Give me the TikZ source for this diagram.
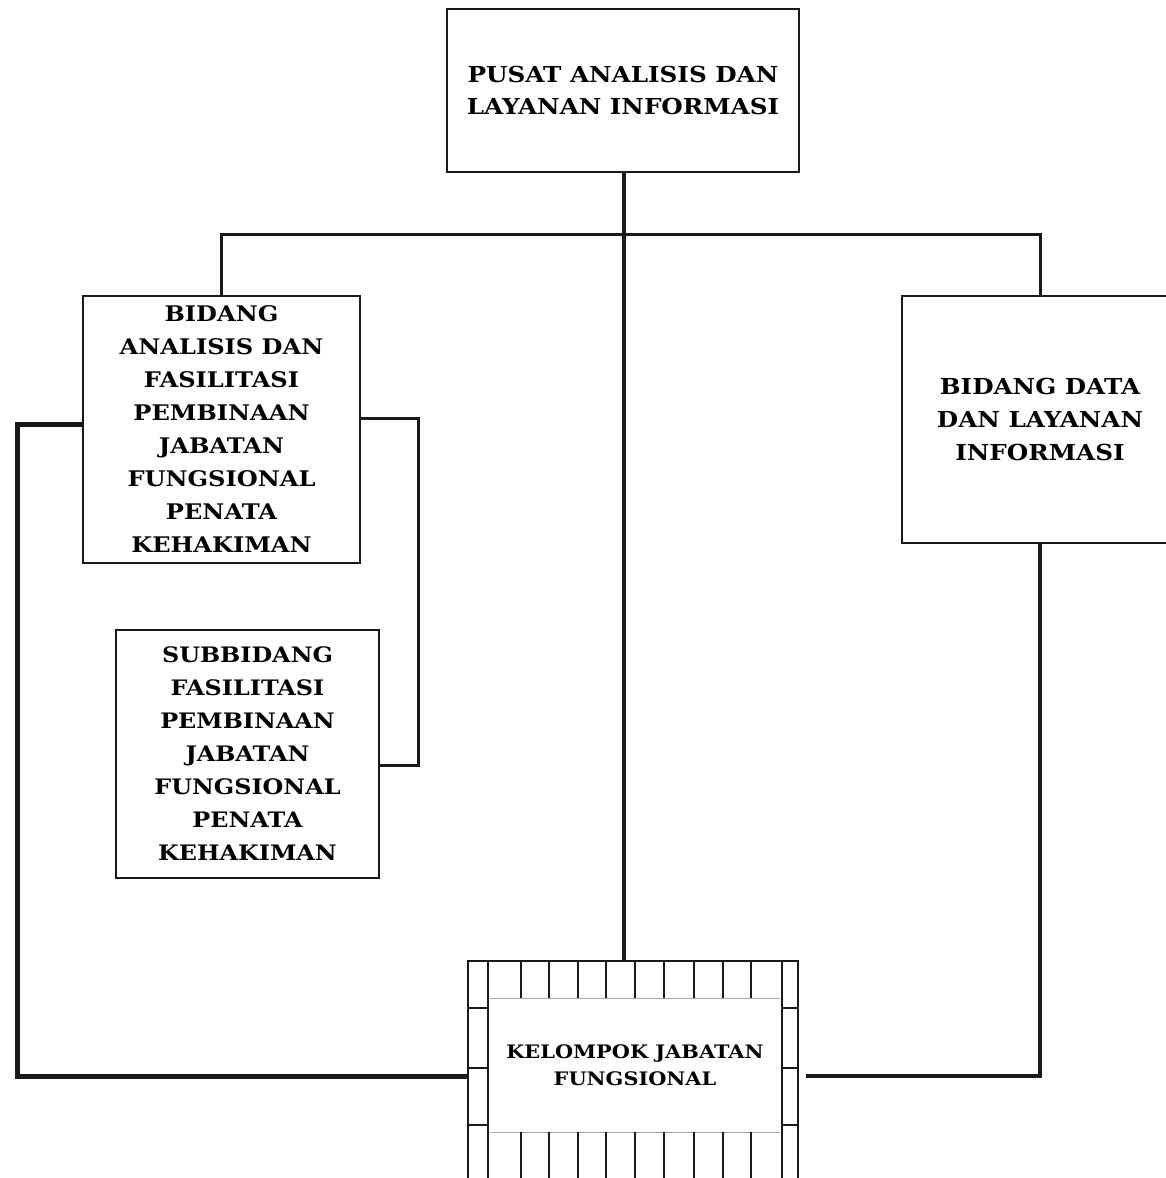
\documentclass[tikz,border=0pt]{standalone}
\usepackage{fontspec}
\newfontfamily\orgfont[FakeStretch=1.12]{DejaVu Serif}
\begin{document}
\begin{tikzpicture}[x=1pt,y=-1pt,
  box/.style={draw=black!90,line width=2.6pt,rectangle,inner sep=0pt,align=center},
  conn/.style={draw=black!90,line width=3pt},
  strip/.style={draw=black!90,line width=2.4pt}]
\useasboundingbox (0,0) rectangle (1165,1178);
\fill[white] (0,0) rectangle (1165,1178);

% nodes
\node[box,minimum width=352pt,minimum height=163pt,font=\orgfont\bfseries\fontsize{22}{32}\selectfont] (top) at (623,90.5) {PUSAT ANALISIS DAN\\LAYANAN INFORMASI};
\node[box,minimum width=277pt,minimum height=267pt,font=\orgfont\bfseries\fontsize{21.5}{33}\selectfont] (bidang) at (221.5,429.5) {BIDANG\\ANALISIS DAN\\FASILITASI\\PEMBINAAN\\JABATAN\\FUNGSIONAL\\PENATA\\KEHAKIMAN};
\node[box,minimum width=276pt,minimum height=247pt,font=\orgfont\bfseries\fontsize{22}{33}\selectfont] (rbox) at (1040,419.5) {BIDANG DATA\\DAN LAYANAN\\INFORMASI};
\node[box,minimum width=263pt,minimum height=248pt,font=\orgfont\bfseries\fontsize{21.3}{33}\selectfont] (sub) at (247.5,754) {SUBBIDANG\\FASILITASI\\PEMBINAAN\\JABATAN\\FUNGSIONAL\\PENATA\\KEHAKIMAN};
\node[draw=black!90,line width=2.4pt,rectangle,inner sep=0pt,minimum width=330pt,minimum height=219pt] (kjf) at (633,1070.5) {};
\node[align=center,font=\orgfont\bfseries\fontsize{18.6}{27}\selectfont,inner sep=0pt] (kjft) at (635,1065) {KELOMPOK JABATAN\\FUNGSIONAL};

% hatched frame of the bottom box
\draw[strip] (488,961) -- (488,1180);
\draw[strip] (782,961) -- (782,1180);
\draw[black!35,line width=0.8pt] (490,998) -- (780,998);
\draw[black!35,line width=0.8pt] (490,1132) -- (780,1132);
\foreach \x in {521,549,578,606,635,664,694,723,751}{
  \draw[strip] (\x,961) -- (\x,998);
  \draw[strip] (\x,1132) -- (\x,1180);
}
\foreach \y in {1008,1068,1125}{
  \draw[strip] (468,\y) -- (488,\y);
  \draw[strip] (782,\y) -- (798,\y);
}

% coordinates
\coordinate (bar) at (624,234);
\coordinate (lcorner) at (17,1076);
\coordinate (rcorner) at (1040,1076);
\coordinate (brk) at (418,418);

% connectors
\draw[conn,line width=4.5pt] (top.south -| bar) -- (bar |- kjf.north);
\draw[conn] (bidang.north) |- (bar) -| (rbox.north);
\draw[conn,line width=5pt] ([yshift=5.5pt]bidang.west) -| (lcorner) -- (kjf.west |- lcorner);
\draw[conn] ([yshift=11.5pt]bidang.east) -- (brk) |- ([yshift=-11pt]sub.east);
\draw[conn,line width=4pt] (rbox.south) -- (rcorner) -- ([xshift=7pt]kjf.east |- rcorner);
\end{tikzpicture}
\end{document}
